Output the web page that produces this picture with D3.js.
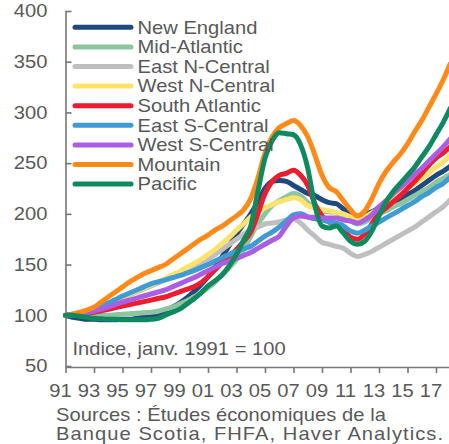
<!DOCTYPE html>
<html>
<head>
<meta charset="utf-8">
<script src="https://cdn.jsdelivr.net/npm/d3@7"></script>
<style>
  body { margin: 0; background: #fff; }
  text { font-family: "Liberation Sans", Arial, sans-serif; fill: #595959; }
</style>
</head>
<body>
<div id="viz"></div>
<script>
// half-year grid, 1991.0 -> 2018.0
let years = d3.range(0, 55).map(i => 1991 + i / 2);

let regions = ['New England', 'Mid-Atlantic', 'East N-Central', 'West N-Central', 'South Atlantic',
               'East S-Central', 'West S-Central', 'Mountain', 'Pacific'];
let colors = ['#1f4a7f', '#8cc59f', '#bfbfbf', '#fde26b', '#ed1c2e', '#3f9bd3', '#ab5ee2', '#ff8a17', '#0f8a5f'];

let newEngland = [100,98,97,96,96,95.5,95.5,95.5,96,96,97,98,99,101,104,108,112,117,123,130,138,148,158,169,180,190,200,212,225,232,233,232,228,224,220,218,214,211,210,205,201,198,199,202,206,209,212,215,219,223,228,233,238,242,247];
let midAtlantic = [100,100,100,100,100,100,100,100.5,101,101.5,102,102.5,103,104,106,108,111,114,118,122,127,133,140,147,155,165,178,190,200,208,213,217,220,218,211,206,203,202,201,198,193,190,192,196,200,203,207,210,214,218,222,226,231,235,239];
let eastNCentral = [100,101,102,104,106,108,111,114,117,120,123,126,129,132,135,138,141,143,146,150,155,160,165,170,175,180,184,187,190,191,192,194,195,191,184,178,172,170,168,166,161,158,160,163,167,171,175,179,183,187,192,197,202,207,214];
let westNCentral = [100,101,102,104,106,109,112,115,118,121,124,127,130,133,136,140,143,147,151,155,160,165,171,177,184,190,197,202,206,209,212,214,216,214,208,206,204,203,201,200,197,195,197,201,205,210,215,220,225,230,235,240,246,251,258];
let southAtlantic = [100,100.5,101,102,103,104.5,106,107.5,109,110.5,112,113.5,115,116.5,118,120.5,123,125.5,128,132,138,145,152,158,165,173,182,200,220,232,238,240,243,238,228,210,198,192,190,184,177,175,180,190,200,206,212,218,225,232,240,248,255,260,266];
let eastSCentral = [100,101,102,104,106,109,112,115.5,119,122,125,128,131,133,135,137,139,141.5,144,147,150,153.5,157,160,163,165.5,168,173,178,182,187,193,199,200,197,195,194,192,191,188,183,181,184,188,192,196,200,204,208,212,217,221,226,230,236];
let westSCentral = [100,100.5,101,102.5,104,106,108,110.5,113,115,117,119,121,123,125,128,131,134,137,140.5,144,147.5,151,153.5,156,159,162,166,170,174,178,188,196,198,197,196.5,196,196,196,194,193,191,194,199,207,213,220,226,232,239,245,252,259,266,274];
let mountain = [100,101,103,105,108,113,118,123,128,133,137,141,144,147,150,155,160,165,170,175,179,184,188,193,198,204,215,235,260,276,285,289,292,287,276,258,238,226,222,213,204,198,203,215,230,242,251,259,269,281,292,305,318,332,348];
let pacific = [100,100,99,98,97,96.5,96,96,95.5,95.5,95.5,95.5,96,97,100,103,106,111,116,122,129,134,140,149,160,174,188,222,255,272,280,279,278,268,245,208,188,186,188,181,173,170,173,183,198,212,222,230,238,246,256,266,278,290,304];

let seriesValues = [newEngland, midAtlantic, eastNCentral, westNCentral, southAtlantic,
                    eastSCentral, westSCentral, mountain, pacific];

let yTicks = [50, 100, 150, 200, 250, 300, 350, 400];
let xTicks = d3.range(1991, 2018, 2);

let width = 449, height = 444;
let sx = 1.12; // reference type is a bit wide

let svg = d3.select('#viz')
  .append('svg')
  .attr('width', width)
  .attr('height', height);

let x = d3.scaleLinear()
  .domain([1991, 2019])
  .range([65.5, 65.5 + 28 * 14.25]);

let y = d3.scaleLinear()
  .domain([50, 400])
  .range([366, 11]);

// y axis, ticks pointing inward
let yAxis = svg.append('g')
  .attr('transform', 'translate(65.5,0)')
  .call(d3.axisLeft(y).tickValues(yTicks).tickSizeInner(-6).tickSizeOuter(0).tickPadding(18));

// x axis
let xAxis = svg.append('g')
  .attr('transform', `translate(0,${y(50) + 1})`)
  .call(d3.axisBottom(x).tickValues(xTicks).tickSizeInner(6).tickSizeOuter(0).tickPadding(11)
    .tickFormat(d => String(d).slice(2)));

[yAxis, xAxis].forEach(a => {
  a.select('.domain').attr('stroke', '#777').attr('stroke-width', 1.6);
  a.selectAll('.tick line').attr('stroke', '#777').attr('stroke-width', 1.6);
  a.selectAll('.tick text')
    .style('font-size', '18px')
    .attr('fill', '#595959');
});

yAxis.selectAll('.tick text')
  .attr('x', null)
  .attr('transform', `translate(-18,0) scale(${sx},1)`);
xAxis.selectAll('.tick text')
  .attr('transform', `translate(-5.5,0) scale(${sx},1)`);

// lines
let line = d3.line()
  .x((d, i) => x(years[i]))
  .y(d => y(d))
  .curve(d3.curveMonotoneX);

svg.append('g')
  .selectAll('path')
  .data(seriesValues)
  .join('path')
  .attr('d', d => line(d))
  .attr('fill', 'none')
  .attr('stroke', (d, i) => colors[i])
  .attr('stroke-width', 5)
  .attr('stroke-linejoin', 'round')
  .attr('stroke-linecap', 'round');

// legend
let legend = svg.append('g');
regions.forEach((r, i) => {
  let ly = 27.3 + i * 19.6;
  legend.append('line')
    .attr('x1', 75).attr('x2', 131)
    .attr('y1', ly).attr('y2', ly)
    .attr('stroke', colors[i])
    .attr('stroke-width', 5)
    .attr('stroke-linecap', 'round');
  legend.append('text')
    .attr('transform', `translate(137.5,${ly}) scale(${sx},1)`)
    .attr('dy', '0.35em')
    .style('font-size', '18px')
    .text(r);
});

function note(txt, tx, ty, len) {
  let t = svg.append('text')
    .attr('transform', `translate(${tx},${ty}) scale(${sx},1)`)
    .style('font-size', '18px')
    .text(txt);
  if (len) t.attr('textLength', len / sx).attr('lengthAdjust', 'spacing');
}

note('Indice, janv. 1991 = 100', 72.5, 355);
note('Sources : Études économiques de la', 56, 420.5, 330);
note('Banque Scotia, FHFA, Haver Analytics.', 56, 440, 387);
</script>
</body>
</html>
